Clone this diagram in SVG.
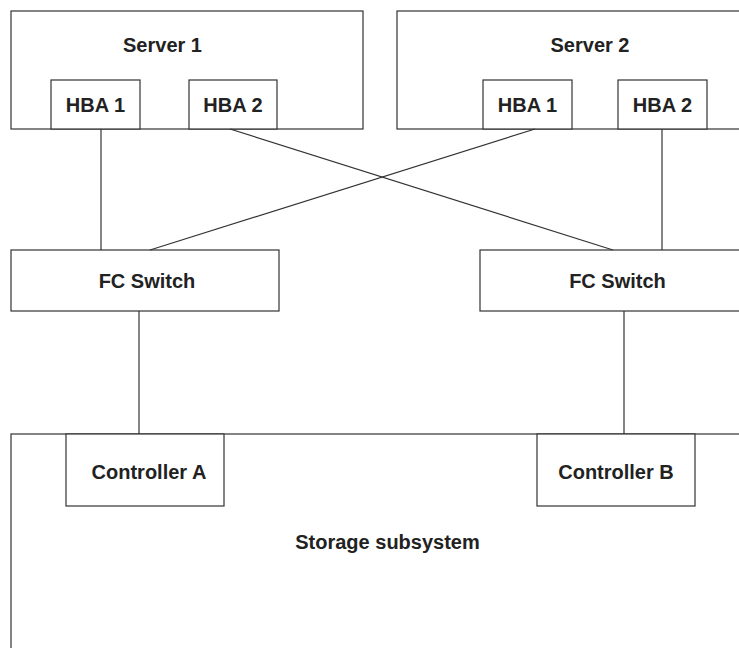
<svg xmlns="http://www.w3.org/2000/svg" width="739" height="648" viewBox="0 0 739 648">
<style>
.box{fill:#fff;stroke:#333;stroke-width:1.2}
.ln{stroke:#333;stroke-width:1.2;fill:none}
text{font-family:"Liberation Sans",Arial,sans-serif;font-size:20px;font-weight:bold;fill:#222;text-anchor:middle}
</style>
<rect width="739" height="648" fill="#fff"/>
<g id="server1">
<rect class="box" x="11" y="11" width="352" height="118"/>
<text x="162.5" y="52">Server 1</text>
</g>
<g id="server2">
<rect class="box" x="397" y="11" width="360" height="118"/>
<text x="590" y="52">Server 2</text>
</g>
<g id="s1hba1">
<rect class="box" x="51" y="80" width="89" height="49"/>
<text x="95.5" y="112">HBA 1</text>
</g>
<g id="s1hba2">
<rect class="box" x="189" y="80" width="88" height="49"/>
<text x="233" y="112">HBA 2</text>
</g>
<g id="s2hba1">
<rect class="box" x="483" y="80" width="89" height="49"/>
<text x="527.5" y="112">HBA 1</text>
</g>
<g id="s2hba2">
<rect class="box" x="618" y="80" width="89" height="49"/>
<text x="662.5" y="112">HBA 2</text>
</g>
<g id="switch1">
<rect class="box" x="11" y="250" width="268" height="61"/>
<text x="147" y="288">FC Switch</text>
</g>
<g id="switch2">
<rect class="box" x="480" y="250" width="280" height="61"/>
<text x="617.5" y="288">FC Switch</text>
</g>
<g id="storage">
<rect class="box" x="11" y="434" width="760" height="240"/>
<text x="387.5" y="549">Storage subsystem</text>
</g>
<g id="ctrlA">
<rect class="box" x="66" y="434" width="158" height="72"/>
<text x="149" y="479">Controller A</text>
</g>
<g id="ctrlB">
<rect class="box" x="537" y="434" width="158" height="72"/>
<text x="616" y="479">Controller B</text>
</g>
<g id="connectors">
<line class="ln" x1="101" y1="129" x2="101" y2="250"/>
<line class="ln" x1="230" y1="129" x2="613" y2="250"/>
<line class="ln" x1="535" y1="129" x2="150" y2="250"/>
<line class="ln" x1="662" y1="129" x2="662" y2="250"/>
<line class="ln" x1="139" y1="311" x2="139" y2="434"/>
<line class="ln" x1="624" y1="311" x2="624" y2="434"/>
</g>
</svg>
